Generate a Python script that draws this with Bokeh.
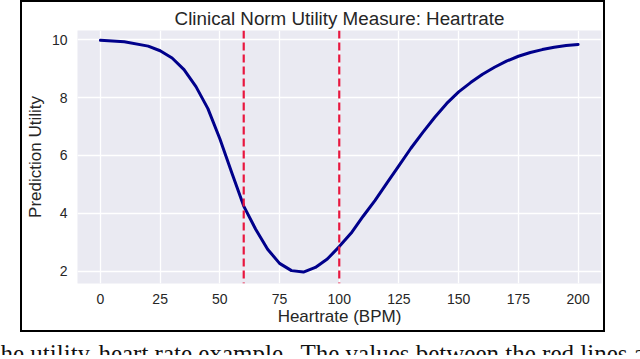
from bokeh.plotting import figure
from bokeh.models import Range1d, Span, FixedTicker, Div
from bokeh.layouts import column
from bokeh.core.properties import value
from bokeh.embed import file_html
from bokeh.resources import INLINE

# ---- data ----
heartrate = [0, 10, 20, 25, 30, 35, 40, 45, 50, 55, 60, 65, 70, 75, 80, 85, 90, 95,
             100, 105, 110, 115, 120, 125, 130, 135, 140, 145, 150, 155, 160, 165,
             170, 175, 180, 185, 190, 195, 200]
utility = [9.98, 9.93, 9.78, 9.62, 9.37, 8.97, 8.38, 7.62, 6.58, 5.40, 4.25, 3.45,
           2.76, 2.27, 2.02, 1.97, 2.13, 2.42, 2.85, 3.32, 3.90, 4.45, 5.05, 5.65,
           6.25, 6.80, 7.32, 7.80, 8.20, 8.52, 8.81, 9.05, 9.26, 9.43, 9.56, 9.66,
           9.74, 9.80, 9.84]
norm_bounds = [60, 100]
x_ticks = [0, 25, 50, 75, 100, 125, 150, 175, 200]
y_ticks = [2, 4, 6, 8, 10]

title_text = "Clinical Norm Utility Measure: Heartrate"
x_label = "Heartrate (BPM)"
y_label = "Prediction Utility"
caption_part1 = "he utility-heart rate example."
caption_part2 = "The values between the red lines a"

FONT = "Liberation Sans"
TXT = "#262626"

p = figure(width=585, height=332, output_backend="svg", toolbar_location=None,
           x_range=Range1d(-9.6, 209.8), y_range=Range1d(1.575, 10.32),
           min_border_left=55, min_border_right=6, min_border_top=28,
           min_border_bottom=51)
p.margin = (0, 0, 0, 20)
p.styles = {"border": "2px solid black"}

p.background_fill_color = "#EAEAF2"
p.border_fill_color = "white"
p.outline_line_color = None

p.title.text = title_text
p.title.align = "center"
p.title.text_font = FONT
p.title.text_font_size = "18.8px"
p.title.text_font_style = "normal"
p.title.text_color = TXT
p.title.standoff = 3

for ax, ticks in ((p.xaxis, x_ticks), (p.yaxis, y_ticks)):
    ax.ticker = FixedTicker(ticks=ticks)
    ax.axis_line_color = None
    ax.major_tick_line_color = None
    ax.minor_tick_line_color = None
    ax.major_tick_out = 0
    ax.major_tick_in = 0
    ax.major_label_text_font = FONT
    ax.major_label_text_font_size = "14px"
    ax.major_label_text_color = TXT
    ax.axis_label_text_font = FONT
    ax.axis_label_text_font_style = "normal"
    ax.axis_label_text_color = TXT
    ax.axis_label_text_font_size = "17px"

p.xaxis.axis_label = x_label
p.yaxis.axis_label = y_label
p.xaxis.major_label_standoff = 10
p.xaxis.axis_label_standoff = 0
p.yaxis.major_label_standoff = 10
p.yaxis.axis_label_standoff = 4

p.xgrid.ticker = FixedTicker(ticks=x_ticks)
p.ygrid.ticker = FixedTicker(ticks=y_ticks)
p.grid.grid_line_color = "white"
p.grid.grid_line_width = 1.3

p.line(heartrate, utility, line_color="#00008B", line_width=3, line_join="round",
       line_cap="round")

for b in norm_bounds:
    p.add_layout(Span(location=b, dimension="height", line_color="#E8173F",
                      line_width=2.2, line_dash="8 4"))

# caption strip below the bordered chart (cut off, as in the reference)
if "frame_align" in p.properties():
    p.frame_align = False
    cap = figure(width=640, height=23, output_backend="svg", toolbar_location=None,
                 x_range=Range1d(0, 640), y_range=Range1d(23, 0),
                 x_axis_type=None, y_axis_type=None,
                 min_border_left=0, min_border_right=0, min_border_top=0,
                 min_border_bottom=0)
    cap.frame_align = False
    cap.outline_line_color = None
    cap.grid.visible = False
    cap.background_fill_color = "white"
    cap.border_fill_color = "white"
    cap.text(x=[0, 300], y=[7, 7], text=[caption_part1, caption_part2],
             text_font=value("Liberation Serif"),
             text_font_size="25px", text_baseline="top", text_color="#111111")
else:
    cap = Div(text=caption_part1 + " " + caption_part2, width=640, height=23,
              styles={"font-family": "Liberation Serif", "font-size": "25px",
                      "white-space": "nowrap", "overflow": "hidden",
                      "color": "#111111", "line-height": "30px",
                      "word-spacing": "3px"})

layout = column(p, cap, spacing=0)

open("out.html", "w").write(file_html(layout, INLINE))
